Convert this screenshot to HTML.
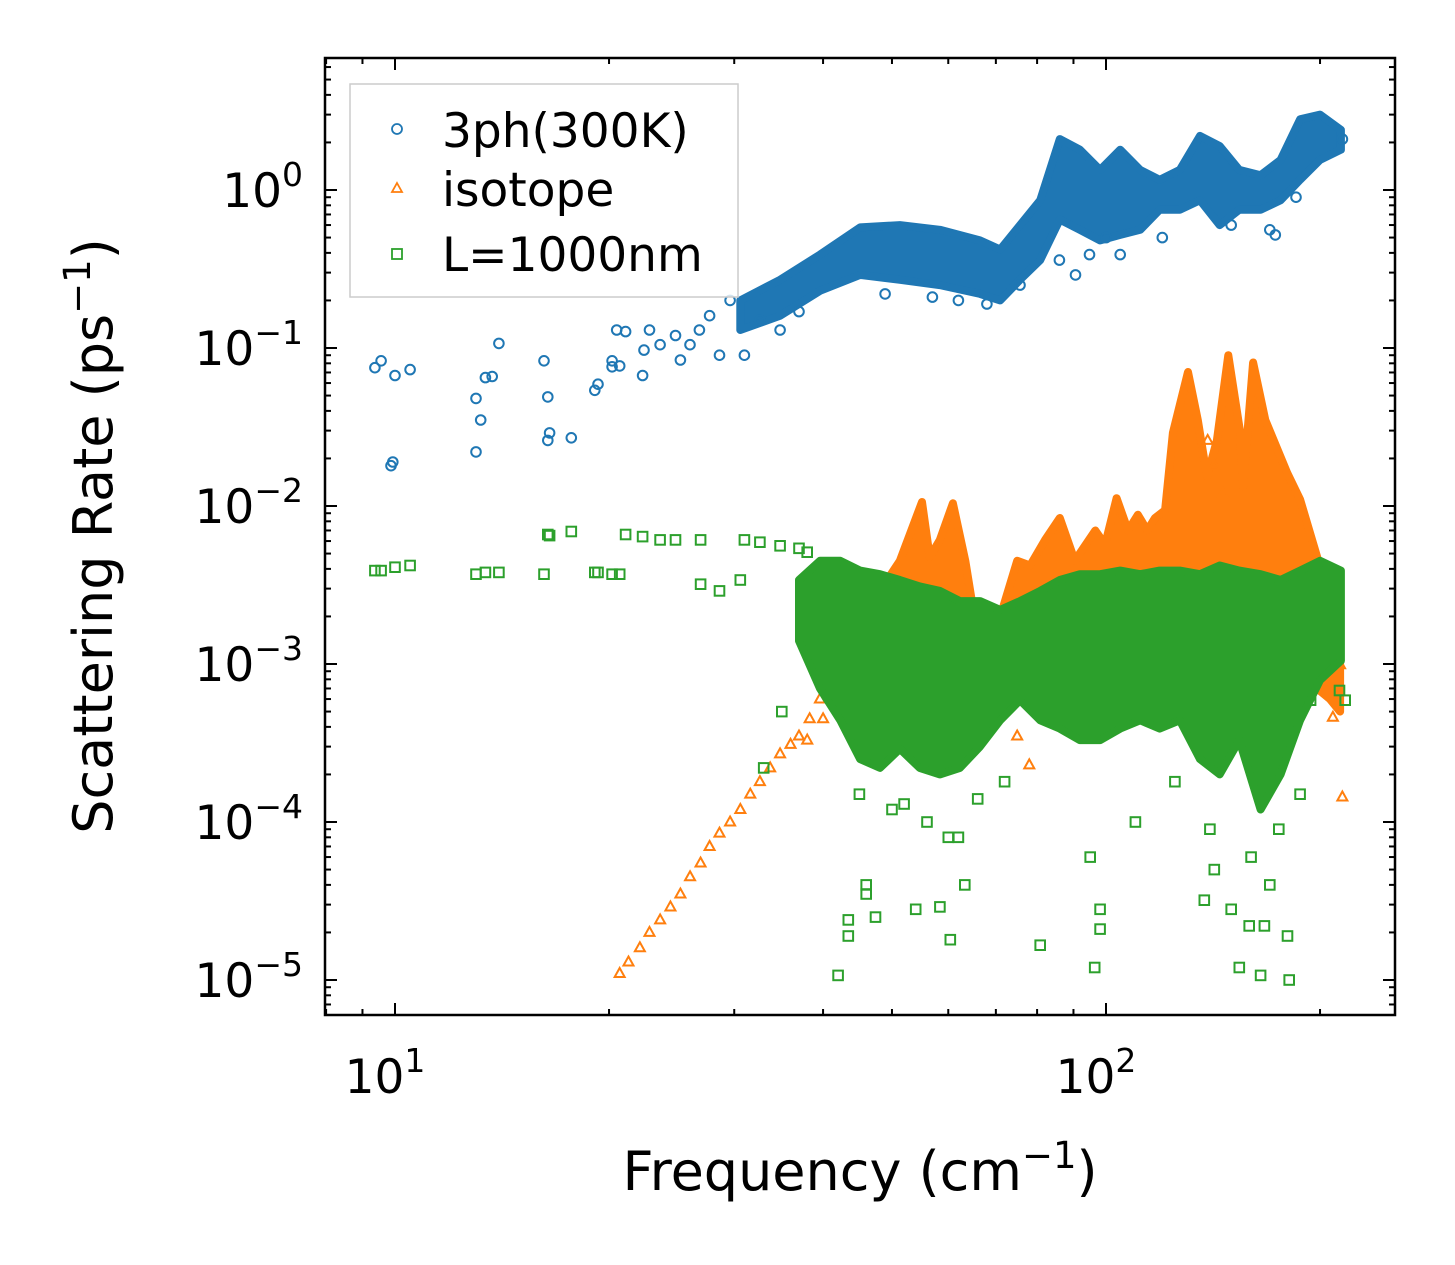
<!DOCTYPE html>
<html><head><meta charset="utf-8">
<style>
html,body{margin:0;padding:0;background:#fff;}
svg{display:block;font-family:"DejaVu Sans","Liberation Sans",sans-serif;}
</style></head>
<body>
<svg id="chart" width="1455" height="1265" viewBox="0 0 1455 1265" xmlns="http://www.w3.org/2000/svg">
<rect x="0" y="0" width="1455" height="1265" fill="#fff"/>
<g id="plot"></g>
<g id="axes"></g>
<text x="860" y="1190" font-size="54" text-anchor="middle" fill="#000">Frequency (cm<tspan dy="-22" font-size="37">−1</tspan><tspan dy="22">)</tspan></text>
<text transform="translate(112,536) rotate(-90)" font-size="54" text-anchor="middle" fill="#000">Scattering Rate (ps<tspan dy="-22" font-size="37">−1</tspan><tspan dy="22">)</tspan></text>
<g id="legend">
<rect x="350" y="84" width="388" height="213" fill="#fff" fill-opacity="0.8" stroke="#ccc" stroke-width="1.5"/>
<circle cx="397" cy="129" r="5" fill="none" stroke="#1f77b4" stroke-width="1.8"/>
<text x="442" y="147" font-size="47">3ph(300K)</text>
<polygon points="397,183 402,192 392,192" fill="none" stroke="#ff7f0e" stroke-width="1.8"/>
<text x="442" y="206" font-size="47">isotope</text>
<rect x="392" y="249" width="10" height="10" fill="none" stroke="#2ca02c" stroke-width="1.8"/>
<text x="442" y="271" font-size="47">L=1000nm</text>
</g>
</svg>
<script>
// ---- data ----
const blueBandFreq = [30.6,34.8,39.6,45.1,51.3,58.4,66.5,71.0,75.7,80.8,86.1,91.9,98.1,104.7,111.7,119,127,135.6,144.5,154,165,176,187.5,200,214];
const blueBandHi   = [0.2,0.27,0.39,0.58,0.6,0.56,0.48,0.42,0.6,0.86,2.1,1.8,1.34,1.8,1.34,1.16,1.34,2.2,1.9,1.34,1.24,1.55,2.8,3.0,2.4];
const blueBandLo   = [0.13,0.16,0.23,0.29,0.27,0.25,0.22,0.2,0.27,0.36,0.65,0.56,0.48,0.52,0.56,0.75,0.75,0.86,0.6,0.75,0.75,0.86,1.16,1.55,1.8];
const bluePtFreq = [9.37,9.56,10,10.5,9.87,9.93,13.0,13.2,13.4,13.7,14.0,13.0,16.2,16.4,16.4,16.5,17.7,19.1,19.3,20.2,20.5,21.1,20.2,20.7,22.3,22.4,22.8,23.6,24.8,25.2,26,26.8,27.7,28.6,29.6,31,32.6,34.8,37,48.9,90.6,75.7,86,94.8,104.7,170,173,215,57,62,68,100,120,150,185];
const bluePtRate = [0.075,0.083,0.067,0.073,0.018,0.019,0.048,0.035,0.065,0.066,0.107,0.022,0.083,0.049,0.026,0.029,0.027,0.054,0.059,0.083,0.13,0.127,0.076,0.077,0.067,0.097,0.13,0.105,0.12,0.084,0.105,0.13,0.16,0.09,0.2,0.09,0.15,0.13,0.17,0.22,0.29,0.25,0.36,0.39,0.39,0.56,0.52,2.1,0.21,0.2,0.19,0.5,0.5,0.6,0.9];

const orangeLineFreq = [20.7,21.3,22.1,22.8,23.6,24.4,25.2,26.0,26.9,27.7,28.6,29.6,30.6,31.6,32.6,33.7,34.8,36.0,37.0,38.3,39.6,40.9,42.2];
const orangeLineRate = [1.1e-5,1.3e-5,1.6e-5,2.0e-5,2.4e-5,2.9e-5,3.5e-5,4.5e-5,5.5e-5,7e-5,8.5e-5,1.0e-4,1.2e-4,1.5e-4,1.8e-4,2.2e-4,2.7e-4,3.1e-4,3.5e-4,4.5e-4,6e-4,8e-4,1.1e-3];
const orangeBandFreq = [42.3,45.1,48.1,51.3,55.1,56.5,58.4,60.9,63.4,65.4,68.7,72.1,75.0,78.2,82.1,86.1,90.4,96.6,99.7,103.5,107.4,110.9,114.3,117.2,121.1,124.2,130.4,134.6,138.7,143.2,148.6,154.3,155.9,161,167.5,179.8,187.5,198.2,206.5,213.4];
const orangeBandHi   = [9.9e-4,2.2e-3,2.9e-3,4.5e-3,1.06e-2,4.75e-3,6.1e-3,1.04e-2,4.5e-3,1.9e-3,1.23e-3,2.5e-3,4.5e-3,4.2e-3,6.1e-3,8.4e-3,4.5e-3,7e-3,5.7e-3,1.12e-2,7e-3,8.8e-3,7e-3,8.4e-3,9.4e-3,2.9e-2,7.05e-2,3.5e-2,1.53e-2,2.6e-2,9.0e-2,3.0e-2,1.32e-2,8.1e-2,3.5e-2,1.62e-2,1.1e-2,4.75e-3,2.5e-3,1.23e-3];
const orangeBandLo   = [7e-4,7e-4,6.5e-4,6e-4,6e-4,6e-4,6e-4,6e-4,6e-4,6e-4,6e-4,6e-4,6e-4,6e-4,6e-4,6e-4,6e-4,6e-4,6e-4,6e-4,6e-4,6e-4,6e-4,6e-4,6e-4,6e-4,6e-4,6e-4,6e-4,6e-4,6e-4,6e-4,6e-4,6e-4,7e-4,8e-4,8e-4,7e-4,6e-4,5e-4];
const orangePtFreq = [213.4,208.5,215,139,142,146,200,205,38,40,44,75,78];
const orangePtRate = [9.9e-4,4.6e-4,1.44e-4,2.6e-2,1.8e-2,1.2e-2,1.0e-3,7e-4,3.3e-4,4.5e-4,9e-4,3.5e-4,2.3e-4];

const greenBandFreq = [37,39.6,42.3,45.1,48.1,51.3,54.7,58.4,62.3,66.5,71.0,75.7,80.8,86.1,91.9,98.1,104.7,111.7,119,127,135.6,144.5,154,165,176,187.5,200,214];
const greenBandHi   = [3.4e-3,4.5e-3,4.5e-3,3.9e-3,3.7e-3,3.4e-3,3.1e-3,2.9e-3,2.5e-3,2.5e-3,2.2e-3,2.5e-3,2.9e-3,3.4e-3,3.7e-3,3.7e-3,3.9e-3,3.7e-3,3.9e-3,3.9e-3,3.7e-3,4.2e-3,3.9e-3,3.7e-3,3.4e-3,3.9e-3,4.5e-3,3.9e-3];
const greenBandLo   = [1.4e-3,7e-4,4.4e-4,2.5e-4,2.2e-4,2.9e-4,2.2e-4,2.0e-4,2.2e-4,3.0e-4,4.4e-4,5.9e-4,4.4e-4,3.9e-4,3.3e-4,3.3e-4,3.9e-4,4.4e-4,3.9e-4,4.4e-4,2.5e-4,2.0e-4,3.3e-4,1.2e-4,2.0e-4,4.4e-4,7.9e-4,1.05e-3];
const greenPtFreq = [9.37,9.56,10,10.5,13.0,13.4,14.0,16.2,16.4,16.5,17.7,19.1,19.3,20.2,20.7,21.1,22.3,23.6,24.8,26.9,31,32.6,34.8,37,38,26.9,28.6,30.6,42.0,43.4,43.4,46.0,46.0,47.4,54.0,58.4,60.4,63.3,80.8,96.4,98.1,98.1,137.5,142,154,159,165,167,181,187.5,194,207,213,217,33,35,52,72,110,125,150,180,95,60,45,50,56,62,66,140,160,170,175];
const greenPtRate = [3.9e-3,3.9e-3,4.1e-3,4.2e-3,3.7e-3,3.8e-3,3.8e-3,3.7e-3,6.6e-3,6.5e-3,6.9e-3,3.8e-3,3.8e-3,3.7e-3,3.7e-3,6.6e-3,6.4e-3,6.1e-3,6.1e-3,6.1e-3,6.1e-3,5.9e-3,5.6e-3,5.4e-3,5.1e-3,3.2e-3,2.9e-3,3.4e-3,1.07e-5,1.9e-5,2.4e-5,4e-5,3.5e-5,2.5e-5,2.8e-5,2.9e-5,1.8e-5,4e-5,1.66e-5,1.2e-5,2.1e-5,2.8e-5,3.2e-5,5e-5,1.2e-5,2.2e-5,1.07e-5,2.2e-5,1.0e-5,1.5e-4,5.9e-4,1.4e-3,6.8e-4,5.9e-4,2.2e-4,5e-4,1.3e-4,1.8e-4,1.0e-4,1.8e-4,2.8e-5,1.9e-5,6e-5,8e-5,1.5e-4,1.2e-4,1.0e-4,8e-5,1.4e-4,9e-5,6e-5,4e-5,9e-5];

const xTickVals = [10,100];
const xTickLabels = ["1","2"];
const yTickVals = [1,0.1,0.01,0.001,0.0001,0.00001];
const yTickLabels = ["0","−1","−2","−3","−4","−5"];

// ---- scales ----
const X0=325,X1=1395,Y0=58,Y1=1015;
function px(f){return 395+711*Math.log10(f/10);}
function py(v){return 190-158*Math.log10(v);}
const NS="http://www.w3.org/2000/svg";
function mk(tag,attrs,parent){const e=document.createElementNS(NS,tag);for(const k in attrs)e.setAttribute(k,attrs[k]);parent.appendChild(e);return e;}
const plot=document.getElementById('plot');
const axes=document.getElementById('axes');
const C={b:"#1f77b4",o:"#ff7f0e",g:"#2ca02c"};

function band(fr,hi,lo,color,name){
  const pts=[];
  for(let i=0;i<fr.length;i++)pts.push(px(fr[i]).toFixed(1)+","+py(hi[i]).toFixed(1));
  for(let i=fr.length-1;i>=0;i--)pts.push(px(fr[i]).toFixed(1)+","+py(lo[i]).toFixed(1));
  const p=mk('polygon',{points:pts.join(" "),fill:color,stroke:color,'stroke-width':8,'stroke-linejoin':'round'},plot);
  
  
}
function circles(fr,rt,name){
  for(let i=0;i<fr.length;i++){
    const c=mk('circle',{cx:px(fr[i]).toFixed(1),cy:py(rt[i]).toFixed(1),r:4.8,fill:'none',stroke:C.b,'stroke-width':2},plot);
    
    
  }
}
function tris(fr,rt,name){
  for(let i=0;i<fr.length;i++){
    const x=px(fr[i]),y=py(rt[i]);
    const t=mk('polygon',{points:`${x},${y-5.5} ${x+5},${y+3.5} ${x-5},${y+3.5}`,fill:'none',stroke:C.o,'stroke-width':2},plot);
    
    
  }
}
function squares(fr,rt,name){
  for(let i=0;i<fr.length;i++){
    const s=mk('rect',{x:(px(fr[i])-4.8).toFixed(1),y:(py(rt[i])-4.8).toFixed(1),width:9.6,height:9.6,fill:'none',stroke:C.g,'stroke-width':2},plot);
    
    
  }
}
band(blueBandFreq,blueBandHi,blueBandLo,C.b,'3ph-band');
circles(bluePtFreq,bluePtRate,'3ph-point');
band(orangeBandFreq,orangeBandHi,orangeBandLo,C.o,'isotope-band');
tris(orangeLineFreq,orangeLineRate,'isotope-point');
tris(orangePtFreq,orangePtRate,'isotope-point');
band(greenBandFreq,greenBandHi,greenBandLo,C.g,'boundary-band');
squares(greenPtFreq,greenPtRate,'boundary-point');

// ---- axes ----
const frame=mk('rect',{x:X0,y:Y0,width:X1-X0,height:Y1-Y0,fill:'none',stroke:'#000','stroke-width':2.5},axes);


function tickLine(x1,y1,x2,y2,name){
  const l=mk('line',{x1,y1,x2,y2,stroke:'#000','stroke-width':2},axes);
  
  
}
for(let d=0;d<=2;d++){
  for(let k=1;k<=9;k++){
    const f=k*Math.pow(10,d);const x=px(f);
    if(x<X0||x>X1)continue;
    const L=k===1?12:6;
    tickLine(x,Y1,x,Y1-L,'x-tick');
    tickLine(x,Y0,x,Y0+L,'x-tick-top');
  }
}
xTickVals.forEach((v,i)=>{
  const t=mk('text',{x:px(v)-10,y:1093,'font-size':47,'text-anchor':'middle'},axes);
  t.innerHTML='10<tspan dy="-21" font-size="33">'+xTickLabels[i]+'</tspan>';
  
  
});
for(let d=-6;d<=0;d++){
  for(let k=1;k<=9;k++){
    const v=k*Math.pow(10,d);const y=py(v);
    if(y<Y0||y>Y1)continue;
    const L=k===1?12:6;
    tickLine(X0,y,X0+L,y,'y-tick');
    tickLine(X1,y,X1-L,y,'y-tick-right');
  }
}
yTickVals.forEach((v,i)=>{
  const y=py(v);
  const t=mk('text',{x:303,y:y+17,'font-size':47,'text-anchor':'end'},axes);
  t.innerHTML='10<tspan dy="-21" font-size="33">'+yTickLabels[i]+'</tspan>';
  
  
});
</script>
</body></html>
